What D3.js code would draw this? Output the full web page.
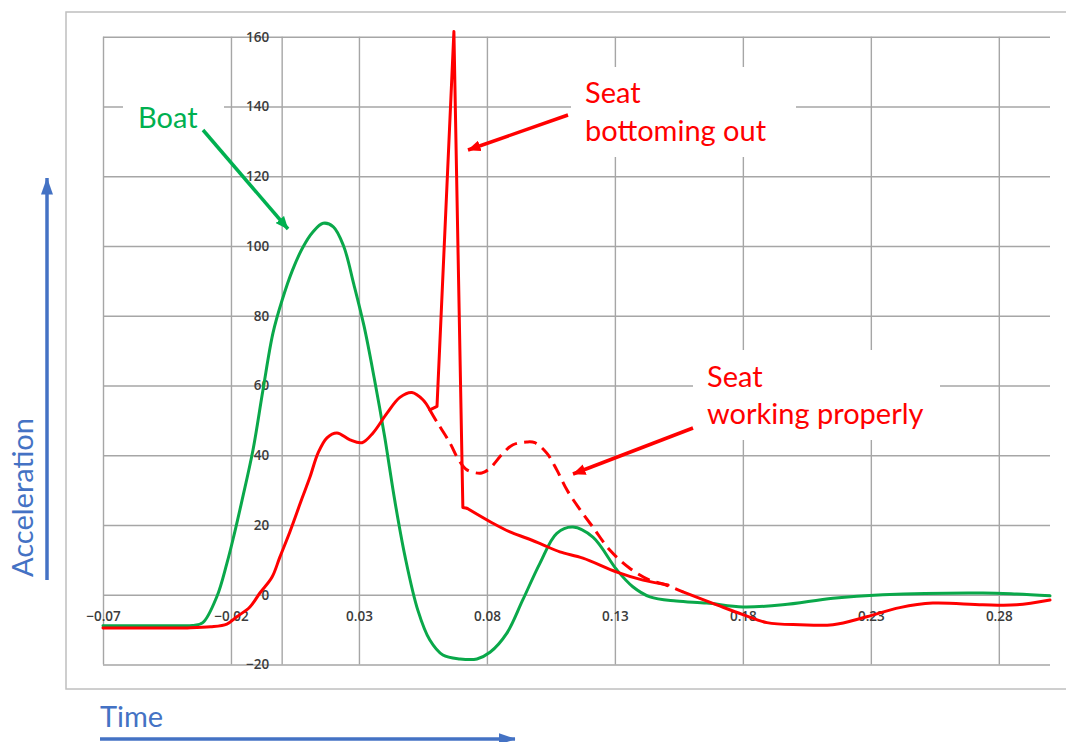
<!DOCTYPE html>
<html>
<head>
<meta charset="utf-8">
<script src="https://cdn.jsdelivr.net/npm/d3@7"></script>
<style>
  html, body { margin: 0; padding: 0; background: #fff; }
  svg { display: block; }
</style>
</head>
<body>
<svg id="chart" width="1066" height="742"></svg>
<script>
// ---------- data ----------
const xTicks = [-0.07, -0.02, 0.03, 0.08, 0.13, 0.18, 0.23, 0.28];
const yTicks = [-20, 0, 20, 40, 60, 80, 100, 120, 140, 160];

// Boat (green)
const boatT = [-0.07, -0.04, -0.035, -0.031, -0.0255, -0.0216, -0.019, -0.0157, -0.0114, -0.0075, -0.0036, 0.0, 0.004, 0.008, 0.012, 0.016, 0.020, 0.024, 0.028, 0.032, 0.036, 0.040, 0.044, 0.048, 0.053, 0.0577, 0.0628, 0.0695, 0.0761, 0.0812, 0.0878, 0.094, 0.1007, 0.1073, 0.1136, 0.1214, 0.1308, 0.137, 0.1437, 0.154, 0.1659, 0.18, 0.1956, 0.2152, 0.2347, 0.2738, 0.287, 0.30];
const boatA = [-8.9, -8.9, -8.8, -8, -0.5, 9, 16.5, 27, 41.5, 58.7, 75, 84.5, 93, 99.5, 104, 106.5, 105.5, 100, 89, 77, 62, 45.5, 27, 11, -4.4, -13, -17.3, -18.4, -18.4, -16.5, -11, -1.5, 9, 17.6, 19.4, 16.5, 7.1, 2.3, -0.6, -1.8, -2.4, -3.5, -2.9, -1, 0, 0.5, 0.2, -0.3];

// Seat bottoming out (red solid): smooth rise, spike, decay
const seatT = [-0.07, -0.037, -0.028, -0.0216, -0.0177, -0.0126, -0.0087, -0.004, -0.0009, 0.003, 0.0077, 0.0109, 0.014, 0.0175, 0.0214, 0.0265, 0.0312, 0.0355, 0.0409, 0.046, 0.0507, 0.055, 0.0577, 0.0605, 0.0671, 0.0706, 0.0722, 0.0823, 0.089, 0.0956, 0.1019, 0.1085, 0.1175, 0.1308, 0.141, 0.1508];
const seatA = [-9.5, -9.5, -9.2, -8.4, -6.3, -3.5, 0.5, 5, 10.8, 18, 27.5, 33.8, 40.6, 45, 46.4, 44.4, 43.6, 46.4, 52, 56.6, 58, 55.9, 53, 54, 161.5, 25, 24.8, 20.5, 18, 16.2, 14.3, 12.3, 10.5, 6.5, 4.2, 2.8];

// Seat working properly (red dashed)
const properT = [0.0577, 0.0605, 0.0655, 0.0687, 0.0722, 0.078, 0.0812, 0.0863, 0.0902, 0.0956, 0.0987, 0.1034, 0.1073, 0.1113, 0.1163, 0.1214, 0.128, 0.1358, 0.1436, 0.15, 0.1566];
const properA = [53, 49.5, 43.6, 39, 35.8, 34.9, 36.3, 40.6, 43, 43.8, 43.6, 40.6, 35.8, 30, 24.5, 19.4, 12.8, 7.6, 4.2, 2.8, 0.8];

// Common tail (red solid)
const tailT = [0.1566, 0.1698, 0.18, 0.1894, 0.2023, 0.2152, 0.2284, 0.2413, 0.2542, 0.2737, 0.287, 0.30];
const tailA = [0.8, -2.9, -5.7, -8, -8.6, -8.6, -6.3, -3.7, -2.4, -2.9, -2.9, -1.5];

// ---------- setup ----------
const svg = d3.select("#chart");
const GREEN = "#00B050", RED = "#FF0000", BLUE = "#4472C4", GRID = "#a6a6a6";
const FONT = "Lato, 'Open Sans', sans-serif";

const x = d3.scaleLinear().domain([-0.07, 0.30]).range([103, 1050]);
const y = d3.scaleLinear().domain([-20, 160]).range([664.5, 36.7]);

// outer frame
svg.append("rect").attr("x", 66).attr("y", 12).attr("width", 1100).attr("height", 677)
  .attr("fill", "none").attr("stroke", "#bfbfbf").attr("stroke-width", 1.5);

// gridlines
const grid = svg.append("g");
grid.append("g").attr("transform", `translate(0,${y(-20)})`)
  .call(d3.axisBottom(x).tickValues(xTicks).tickSize(-(y(-20) - y(160))).tickFormat(""))
  .call(g => g.select(".domain").remove())
  .call(g => g.selectAll("line").attr("stroke", GRID).attr("stroke-width", 1.4));
grid.append("g").attr("transform", `translate(${x(-0.07)},0)`)
  .call(d3.axisLeft(y).tickValues(yTicks).tickSize(-(x(0.30) - x(-0.07))).tickFormat(""))
  .call(g => g.select(".domain").remove())
  .call(g => g.selectAll("line").attr("stroke", GRID).attr("stroke-width", 1.4));
grid.append("line").attr("x1", x(0)).attr("x2", x(0)).attr("y1", y(-20)).attr("y2", y(160))
  .attr("stroke", GRID).attr("stroke-width", 1.4);

// white boxes behind annotations
const boxes = [[123, 80, 101, 70], [571, 67, 225, 90], [693, 350, 247, 90]];
svg.append("g").selectAll("rect").data(boxes).join("rect")
  .attr("x", d => d[0]).attr("y", d => d[1]).attr("width", d => d[2]).attr("height", d => d[3])
  .attr("fill", "#fff");

// tick labels
function styleTicks(g) {
  g.select(".domain").remove();
  g.attr("font-size", null).attr("font-family", null);
  g.selectAll("text").attr("fill", "#3c3c3c")
    .attr("font-family", "'Open Sans', sans-serif").attr("font-size", 13.5)
    .attr("font-weight", 600);
}
svg.append("g").attr("transform", `translate(${x(0)},0)`)
  .call(d3.axisLeft(y).tickValues(yTicks).tickSize(0).tickPadding(13).tickFormat(d3.format("d")))
  .call(styleTicks);
svg.append("g").attr("transform", `translate(0,${y(0)})`)
  .call(d3.axisBottom(x).tickValues(xTicks).tickSize(0).tickPadding(17).tickFormat(d3.format(".2f")))
  .call(styleTicks);

// lines
const zip = (a, b) => a.map((v, i) => [v, b[i]]);
const smooth = d3.line().x(d => x(d[0])).y(d => y(d[1])).curve(d3.curveCatmullRom.alpha(0.5));
const straight = d3.line().x(d => x(d[0])).y(d => y(d[1]));

function draw(pts, gen, color, dash) {
  const p = svg.append("path").datum(pts).attr("d", gen)
    .attr("fill", "none").attr("stroke", color).attr("stroke-width", 3)
    .attr("stroke-linejoin", "round").attr("stroke-linecap", dash ? "butt" : "round");
  if (dash) p.attr("stroke-dasharray", dash);
}
draw(zip(boatT, boatA), smooth, "#0aa84a");
draw(zip(properT, properA), smooth, RED, "13,7");
const seat = zip(seatT, seatA);
const iSpikeStart = seatT.indexOf(0.0577), iSpikeEnd = seatT.indexOf(0.0722);
draw(seat.slice(0, iSpikeStart + 1), smooth, RED);
draw(seat.slice(iSpikeStart, iSpikeEnd + 1), straight, RED);
draw(seat.slice(iSpikeEnd), smooth, RED);
draw(zip(tailT, tailA), smooth, RED);

// arrow markers
const defs = svg.append("defs");
function marker(id, color, len, wid) {
  defs.append("marker").attr("id", id).attr("markerUnits", "userSpaceOnUse")
    .attr("viewBox", `0 0 ${len} ${wid}`).attr("refX", len - 0.5).attr("refY", wid / 2)
    .attr("markerWidth", len).attr("markerHeight", wid).attr("orient", "auto")
    .append("path").attr("d", `M0,0 L${len},${wid / 2} L0,${wid} Z`).attr("fill", color);
}
marker("mg", GREEN, 13, 11);
marker("mr", RED, 13, 11);
marker("mb", BLUE, 17, 12);

function arrow(x1, y1, x2, y2, color, m, w) {
  svg.append("line").attr("x1", x1).attr("y1", y1).attr("x2", x2).attr("y2", y2)
    .attr("stroke", color).attr("stroke-width", w).attr("marker-end", `url(#${m})`);
}
arrow(203, 130, 288, 229, GREEN, "mg", 3.5);
arrow(568, 115, 468, 150, RED, "mr", 3.5);
arrow(693, 428, 573, 474, RED, "mr", 3.5);
arrow(47, 580, 47, 178, BLUE, "mb", 3.5);
arrow(100, 739, 515, 739, BLUE, "mb", 3.5);

// annotation texts
function label(txt, tx, ty, color) {
  svg.append("text").attr("x", tx).attr("y", ty).text(txt)
    .attr("fill", color).style("font-family", FONT).style("font-size", "29px");
}
label("Boat", 138, 128, GREEN);
label("Seat", 585, 103, RED);
label("bottoming out", 585, 141, RED);
label("Seat", 707, 387, RED);
label("working properly", 707, 424, RED);
label("Time", 100, 727, BLUE);
svg.append("text").attr("transform", "translate(33,577) rotate(-90)").text("Acceleration")
  .attr("fill", BLUE).style("font-family", FONT).style("font-size", "29px");
</script>
</body>
</html>
